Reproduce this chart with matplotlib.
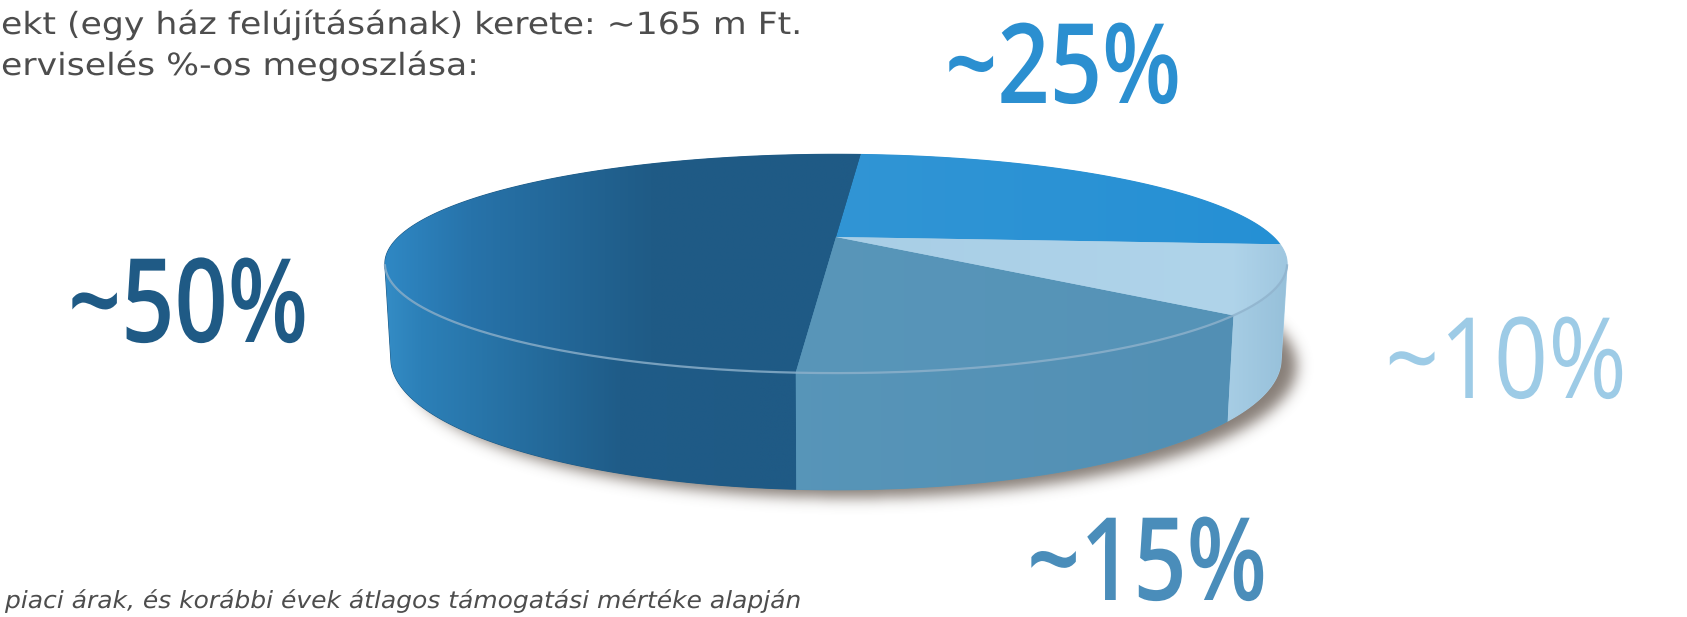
import numpy as np
import matplotlib.pyplot as plt
from matplotlib.patches import Polygon
from matplotlib.path import Path
from matplotlib.colors import to_rgb
from matplotlib.transforms import Affine2D
from matplotlib.patheffects import AbstractPathEffect

# slices, counter-clockwise from the start angle
labels = ['~25%', '~50%', '~15%', '~10%']
shares = [25, 50, 15, 10]
colors = ['#2e93d3', '#1f5b86', '#5694b7', '#a5cce5']
label_colors = ['#2b8fd0', '#1f5a85', '#4a8dba', '#9dcbe6']

header = ['ekt (egy ház felújításának) kerete: ~165 m Ft.',
          'erviselés %-os megoszlása:']
footnote = 'piaci árak, és korábbi évek átlagos támogatási mértéke alapján'

# ---- layout / style ----
W, H = 1687, 617
start = -4.0
phi = np.radians(13.6)
dist = 3.98
F = 1741.0
cx, cy = 836, 237
thick = 0.215

label_pos = [(945, 103), (68, 342), (1027, 600), (1385, 398)]
label_size = [80, 84, 83, 81]
label_weight = ['semibold', 'semibold', 'semibold', 'normal']
label_width = [236, 240, 240, 242]

top_shade = [
    [(830, '#3195d4'), (1290, '#2590d5')],
    [(385, '#2f88c4'), (470, '#2773aa'), (650, '#1f5b86'), (840, '#1f5a85')],
    [(740, '#5996b9'), (1230, '#5593b7')],
    [(830, '#a8cee6'), (1230, '#b0d4ea'), (1290, '#9ec6df')],
]
side_shade = [
    None,
    [(360, '#3a95cf'), (420, '#2c80b8'), (620, '#1f5c88'), (760, '#1f5a85')],
    [(740, '#5896b9'), (1230, '#528fb4')],
    [(1220, '#a9cfe6'), (1292, '#95bfd9')],
]


class Squeeze(AbstractPathEffect):
    """Scale glyphs horizontally around the text start."""

    def __init__(self, sx):
        super().__init__()
        self.sx = sx

    def draw_path(self, renderer, gc, tpath, affine, rgbFace=None):
        renderer.draw_path(gc, tpath, Affine2D().scale(self.sx, 1) + affine, rgbFace)


def proj(X, Y, Z):
    c, s = np.cos(phi), np.sin(phi)
    d = dist + Y * c - Z * s
    return cx + X * F / d, cy - (Y * s + Z * c) * F / d


def rim(t, z):
    x, y = proj(np.cos(t), np.sin(t), z)
    return np.c_[x, y]


def gradient_fill(ax, xy, stops, base, zorder):
    ax.add_patch(Polygon(xy, closed=True, facecolor=base, edgecolor=base,
                         lw=0.8, zorder=zorder))
    clip = Polygon(xy, closed=True, facecolor='none', edgecolor='none',
                   transform=ax.transData)
    ax.add_patch(clip)
    x0, x1 = xy[:, 0].min(), xy[:, 0].max()
    y0, y1 = xy[:, 1].min(), xy[:, 1].max()
    gx = np.linspace(x0, x1, 400)
    sx = [p for p, _ in stops]
    cols = np.array([to_rgb(c) for _, c in stops])
    img = np.stack([np.interp(gx, sx, cols[:, i]) for i in range(3)], axis=-1)[None]
    im = ax.imshow(img, extent=(x0, x1, y1, y0), aspect='auto',
                   interpolation='bilinear', zorder=zorder + 0.1)
    im.set_clip_path(clip)


def blur(a, sigma):
    r = int(3 * sigma)
    k = np.exp(-0.5 * (np.arange(-r, r + 1) / sigma) ** 2)
    k /= k.sum()
    a = np.apply_along_axis(lambda m: np.convolve(m, k, mode='same'), 0, a)
    a = np.apply_along_axis(lambda m: np.convolve(m, k, mode='same'), 1, a)
    return a


fig = plt.figure(figsize=(16.8701, 6.1701), dpi=100)
ax = fig.add_axes([0, 0, 1, 1])

# shadow under the disc
t_all = np.linspace(0, 2 * np.pi, 400)
shadow_poly = rim(t_all, -thick) + np.array([15, 8])
sx0, sx1, sy0 = 300, 1420, 250
gx, gy = np.meshgrid(np.arange(sx0, sx1) + 0.5, np.arange(sy0, H) + 0.5)
mask = Path(shadow_poly).contains_points(np.c_[gx.ravel(), gy.ravel()])
mask = blur(mask.reshape(gx.shape).astype(float), 7)
rgba = np.zeros(gx.shape + (4,))
rgba[..., :3] = (0.33, 0.28, 0.24)
rgba[..., 3] = mask * 0.7
ax.imshow(rgba, extent=(sx0, sx1, H, sy0), origin='upper', zorder=1)

# slice angles
bounds = start + np.concatenate([[0], np.cumsum(shares)]) * 360.0 / sum(shares)
vis = np.degrees(np.arcsin(1.0 / (dist * np.cos(phi))))
vis_lo, vis_hi = 180 + vis, 360 - vis

for i in range(len(shares)):
    a0, a1 = bounds[i], bounds[i + 1]
    # side face
    for shift in (0, 360, -360):
        b0, b1 = max(a0 + shift, vis_lo), min(a1 + shift, vis_hi)
        if b1 > b0 and side_shade[i] is not None:
            tt = np.radians(np.linspace(b0, b1, 200))
            side = np.vstack([rim(tt, 0), rim(tt[::-1], -thick)])
            gradient_fill(ax, side, side_shade[i], colors[i], 2)
    # top face
    tt = np.radians(np.linspace(a0, a1, 300))
    top = np.vstack([[proj(0, 0, 0)], rim(tt, 0)])
    gradient_fill(ax, top, top_shade[i], colors[i], 4)

# light edge between top and side
tt = np.radians(np.linspace(vis_lo, vis_hi, 300))
edge = rim(tt, 0)
ax.plot(edge[:, 0], edge[:, 1], color='#8fb2cc', lw=1.6, alpha=0.8, zorder=6)

# percentage labels
fam = ['Open Sans', 'DejaVu Sans']
texts = []
for lab, (x, y), col, fs, wt in zip(labels, label_pos, label_colors,
                                    label_size, label_weight):
    texts.append(ax.text(x, y, lab, fontsize=fs, color=col, ha='left',
                         va='baseline', family=fam, weight=wt, zorder=8))

hdr = []
hdr.append(ax.text(1, 34, header[0], fontsize=22, color='#4d4d4d', ha='left',
                   va='baseline', family='DejaVu Sans', zorder=8))
hdr.append(ax.text(1, 75, header[1], fontsize=22, color='#4d4d4d', ha='left',
                   va='baseline', family='DejaVu Sans', zorder=8))
foot = ax.text(5, 608, footnote, fontsize=17, color='#4d4d4d', ha='left',
               va='baseline', family='DejaVu Sans', style='italic', zorder=8)

ax.set_xlim(0, W)
ax.set_ylim(H, 0)
ax.axis('off')

# squeeze / stretch texts to the widths they have in the original
fig.canvas.draw()
rend = fig.canvas.get_renderer()
for t, w in zip(texts, label_width):
    t.set_path_effects([Squeeze(w / t.get_window_extent(rend).width)])
hdr_sx = 800 / hdr[0].get_window_extent(rend).width
hdr[0].set_path_effects([Squeeze(hdr_sx)])
hdr[1].set_path_effects([Squeeze(hdr_sx)])
foot.set_path_effects([Squeeze(797 / foot.get_window_extent(rend).width)])

fig.savefig('out.png', dpi=100)
